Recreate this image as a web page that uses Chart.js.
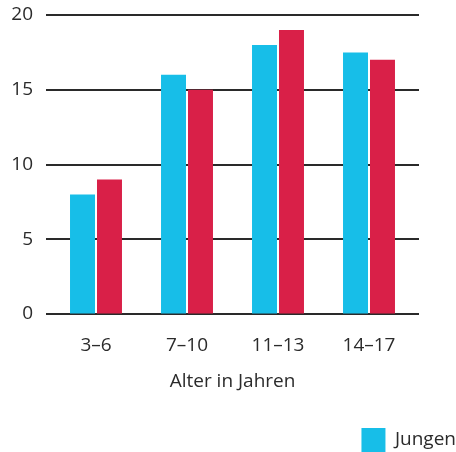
<!DOCTYPE html>
<html>
<head>
<meta charset="utf-8">
<script src="https://cdn.jsdelivr.net/npm/chart.js@4"></script>
<style>
  html, body { margin: 0; padding: 0; background: #ffffff; }
  #wrap { width: 456px; height: 452px; }
</style>
</head>
<body>
<div id="wrap"><canvas id="c" width="456" height="452"></canvas></div>
<script>
// Age groups and values per group
const categories = ['3–6', '7–10', '11–13', '14–17'];
const jungen = [8, 16, 18, 17.5];
const maedchen = [9, 15, 19, 17];
const yMin = 0;
const yMax = 20;
const yStep = 5;

const FONT = "'Open Sans', 'Noto Sans', sans-serif";
const TEXT = '#2b2b2b';

// Horizontal rules at each y tick, drawn behind the bars and slightly wider than the plot area
const gridRules = {
  id: 'gridRules',
  beforeDatasetsDraw(chart) {
    const { ctx, chartArea: a, scales: { y } } = chart;
    ctx.save();
    ctx.strokeStyle = '#2a2a2a';
    ctx.lineWidth = 2;
    y.ticks.forEach(t => {
      const py = Math.round(y.getPixelForValue(t.value));
      ctx.beginPath();
      ctx.moveTo(a.left - 4.5, py);
      ctx.lineTo(a.right + 4.5, py);
      ctx.stroke();
    });
    ctx.restore();
  }
};

new Chart(document.getElementById('c'), {
  type: 'bar',
  data: {
    labels: categories,
    datasets: [
      { label: 'Jungen', data: jungen, backgroundColor: '#17bee8', borderWidth: 0 },
      { label: 'Mädchen', data: maedchen, backgroundColor: '#d92048', borderWidth: 0 }
    ]
  },
  options: {
    responsive: false,
    animation: false,
    devicePixelRatio: 1,
    categoryPercentage: 0.593,
    barPercentage: 0.926,
    layout: { padding: { top: 15, right: 0, left: 0, bottom: -10 } },
    plugins: {
      tooltip: { enabled: false },
      legend: {
        position: 'bottom',
        align: 'end',
        labels: {
          filter: item => item.datasetIndex === 0,
          boxWidth: 24,
          boxHeight: 24,
          padding: 0,
          color: TEXT,
          font: { family: FONT, size: 19 }
        }
      }
    },
    scales: {
      x: {
        grid: { display: false, drawTicks: false },
        border: { display: false },
        ticks: { color: TEXT, padding: 20, font: { family: FONT, size: 19 } },
        title: {
          display: true,
          text: 'Alter in Jahren',
          color: TEXT,
          font: { family: FONT, size: 19 },
          padding: { top: 4, bottom: 34.6 }
        },
        afterFit(s) { s.height = 114; }
      },
      y: {
        min: yMin,
        max: yMax,
        // invisible tick marks keep the labels clear of the rules
        grid: { display: true, drawOnChartArea: false, drawTicks: true, tickLength: 17.5, color: 'rgba(0,0,0,0)' },
        border: { display: false },
        ticks: { stepSize: yStep, color: TEXT, padding: 0, font: { family: FONT, size: 19 } },
        afterFit(s) { s.width = 50.5; }
      },
      // empty right-hand axis that reserves the margin beside the plot
      yRight: {
        position: 'right',
        display: true,
        grid: { display: false, drawTicks: false },
        border: { display: false },
        ticks: { display: false },
        afterFit(s) { s.width = 41.5; }
      }
    }
  },
  plugins: [gridRules]
});
</script>
</body>
</html>
